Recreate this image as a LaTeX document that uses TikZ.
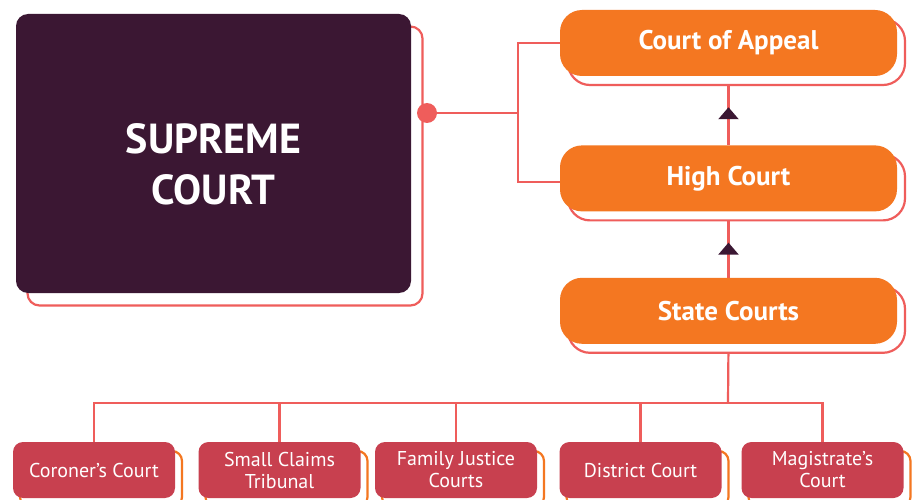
\documentclass[tikz,border=0pt]{standalone}
\usepackage{fontspec}
\setmainfont{PT Sans}
\usetikzlibrary{positioning, shadows, backgrounds, decorations.markings, arrows.meta}

\definecolor{plum}{HTML}{3B1733}
\definecolor{courtorange}{HTML}{F47721}
\definecolor{coral}{HTML}{EF5D5B}
\definecolor{crimson}{HTML}{C8404F}

\tikzset{
  link/.style={draw=coral, line width=2.2pt},
  supreme/.style={rectangle, rounded corners=12pt, fill=plum, minimum width=395pt, minimum height=279pt, inner sep=0pt,
    copy shadow={shadow xshift=11.5pt, shadow yshift=-12.5pt, fill=white, draw=coral, line width=2.2pt}},
  suptext/.style={text=white, align=center, font=\bfseries\fontsize{42}{51}\selectfont, yshift=-11pt},
  upper/.style={rectangle, rounded corners=22pt, fill=courtorange, text=white,
    font=\bfseries\fontsize{27}{30}\selectfont, minimum width=337pt, minimum height=66pt, inner sep=0pt,
    copy shadow={shadow xshift=8pt, shadow yshift=-9pt, fill=white, draw=coral, line width=2.2pt}},
  lower/.style={rectangle, rounded corners=10pt, fill=crimson, text=white, align=center,
    font=\fontsize{20}{22}\selectfont, minimum width=162pt, minimum height=56pt, inner sep=0pt,
    copy shadow={shadow xshift=7pt, shadow yshift=-9pt, fill=white, draw=courtorange, line width=2.2pt}},
  uparrow/.style={postaction={decorate}, decoration={markings,
    mark=at position #1 with {\arrow[plum]{Triangle[width=20pt,length=12pt]}}}}
}

\begin{document}
\begin{tikzpicture}[x=1pt, y=-1pt]
  \useasboundingbox (0,0) rectangle (914,500);

  \node[supreme, label={[suptext]center:SUPREME\\COURT}] (1) at (213.5,153.5) {};
  \node[circle, fill=coral, minimum size=20pt, inner sep=0pt] (dot) at (427,113) {};

  \node[upper] (2) at (728.5,43) {Court of Appeal};
  \node[upper] (3) [below=69pt of 2] {High Court};
  \node[upper] (4) [below=66pt of 3] {State Courts};

  \node[lower] (41) at (94,470) {Coroner's Court};
  \node[lower] (42) at (279.5,470) {Small Claims\\Tribunal};
  \node[lower] (43) at (456,470) {Family Justice\\Courts};
  \node[lower] (44) at (640.5,470) {District Court};
  \node[lower] (45) at (822.5,470) {Magistrate's\\Court};

  \coordinate (bus) at (728,403);

  \begin{scope}[on background layer]
    \fill[white] (0,0) rectangle (914,500);
    % supreme court to the two upper courts
    \draw[link] (dot) -- ++(91,0) |- (2.west);
    \draw[link] (dot) -- ++(91,0) |- ([yshift=-4pt]3.west);
    % appeals upwards
    \draw[link, uparrow=0.55] (3.north) -- (2.south);
    \draw[link, uparrow=0.53] (4.north) -- (3.south);
    % state courts down to the lower courts
    \draw[link] (4.south) -- (bus);
    \draw[link] (41.north) -- (41.north |- bus) -- (45.north |- bus) -- (45.north);
    \foreach \n in {42,43,44}
      \draw[link] (\n.north) -- (\n.north |- bus);
  \end{scope}
\end{tikzpicture}
\end{document}
